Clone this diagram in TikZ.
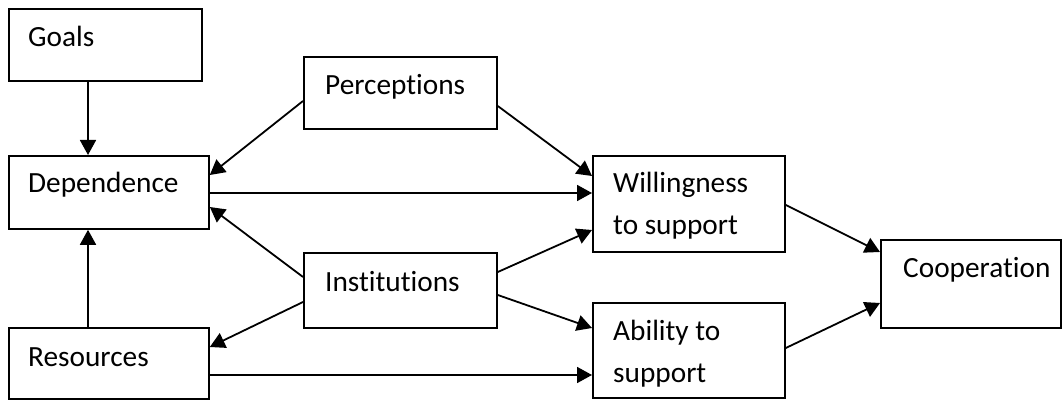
\documentclass[tikz,border=0pt]{standalone}
\usepackage{fontspec}
\setmainfont[Ligatures=NoCommon]{Carlito}
\usetikzlibrary{arrows.meta,calc}
\begin{document}
\begin{tikzpicture}[x=1pt,y=-1pt,
  box/.style={draw, line width=1.8pt, anchor=north west, inner sep=0pt},
  txt/.style={anchor=base west, inner sep=0pt, font=\fontsize{29.3}{42}\selectfont},
  conn/.style={line width=1.8pt, -{Triangle[length=15pt,width=16pt]}}]
\useasboundingbox (0,0) rectangle (1063,401);
% boxes
\node[box, minimum width=193pt, minimum height=72pt] (goals) at (8,8) {};
\node[box, minimum width=200pt, minimum height=73pt] (dep) at (8,155) {};
\node[box, minimum width=200pt, minimum height=71pt] (res) at (8,327) {};
\node[box, minimum width=193pt, minimum height=72pt] (perc) at (303,56) {};
\node[box, minimum width=193pt, minimum height=75pt] (inst) at (303,252) {};
\node[box, minimum width=192pt, minimum height=96pt] (will) at (592,155) {};
\node[box, minimum width=192pt, minimum height=95pt] (abil) at (592,302) {};
\node[box, minimum width=180pt, minimum height=88pt] (coop) at (880,239) {};
% texts
\node[txt] (goals-t) at ([shift={(20,39)}]goals.north west) {Goals};
\node[txt] (dep-t) at ([shift={(20,38)}]dep.north west) {Dependence};
\node[txt] (res-t) at ([shift={(20,39)}]res.north west) {Resources};
\node[txt] (perc-t) at ([shift={(22,39)}]perc.north west) {Perceptions};
\node[txt] (inst-t) at ([shift={(22,39)}]inst.north west) {Institutions};
\node[txt] (will-t1) at ([shift={(21,37)}]will.north west) {Willingness};
\node[txt] (will-t2) at ([shift={(21,79)}]will.north west) {to support};
\node[txt] (abil-t1) at ([shift={(21,38)}]abil.north west) {Ability to};
\node[txt] (abil-t2) at ([shift={(21,80)}]abil.north west) {support};
\node[txt] (coop-t) at ([shift={(23,38)}]coop.north west) {Cooperation};
% connectors
\draw[conn] ($(goals.south west)+(80,0)$) -- ($(dep.north west)+(80,0)$);
\draw[conn] ($(res.north west)+(80,0)$) -- ($(dep.south west)+(80,0)$);
\draw[conn] ($(perc.north west)+(0,45)$) -- ($(dep.north east)+(0,20)$);
\draw[conn] ($(perc.north east)+(0,50)$) -- ($(will.north west)+(0,21)$);
\draw[conn] ($(dep.north east)+(0,38)$) -- ($(will.north west)+(0,38)$);
\draw[conn] ($(inst.north west)+(0,25)$) -- ($(dep.north east)+(0,52)$);
\draw[conn] ($(inst.north west)+(0,50)$) -- ($(res.north east)+(0,20)$);
\draw[conn] ($(inst.north east)+(0,20)$) -- ($(will.north west)+(0,75)$);
\draw[conn] ($(inst.north east)+(0,43)$) -- ($(abil.north west)+(0,26)$);
\draw[conn] ($(res.north east)+(0,48)$) -- ($(abil.north west)+(0,73)$);
\draw[conn] ($(will.north east)+(0,50)$) -- ($(coop.north west)+(0,13)$);
\draw[conn] ($(abil.north east)+(0,46)$) -- ($(coop.north west)+(0,64)$);
\end{tikzpicture}
\end{document}
